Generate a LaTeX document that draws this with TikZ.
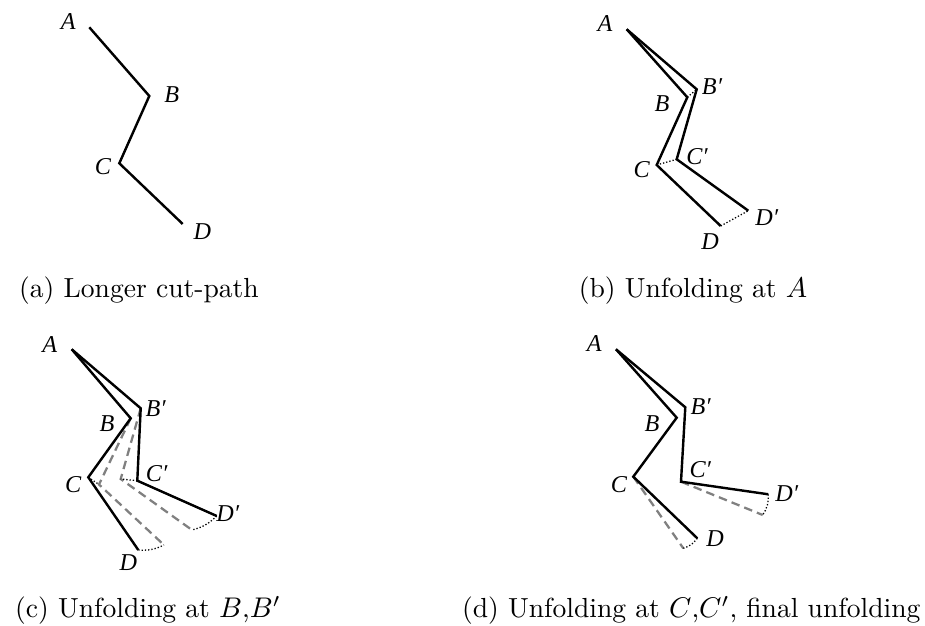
\documentclass[tikz,border=0pt]{standalone}
\usepackage{fontspec}
\newfontfamily\lblfont{Liberation Serif}
\begin{document}
\begin{tikzpicture}[x=0.3516pt,y=-0.3516pt,
  seg/.style={line width=0.85pt, line join=miter},
  old/.style={line width=0.8pt, gray, dash pattern=on 3pt off 1.8pt},
  dots/.style={line width=0.45pt, dash pattern=on 0.45pt off 0.7pt},
  lbl/.style={font=\lblfont\itshape\fontsize{8.5}{10}\selectfont, inner sep=0pt},
  captext/.style={anchor=base, inner sep=0pt, font=\fontsize{9.7}{11}\selectfont}]
\useasboundingbox (0,0) rectangle (925,626);
% ---------- (a)
\coordinate (aA) at (89.3,27.3);
\coordinate (aB) at (149.3,96);
\coordinate (aC) at (119.3,163.3);
\coordinate (aD) at (182.7,224);
\draw[seg] (aA) -- (aB) -- (aC) -- (aD);
\node[lbl] (laA) at (68.3,21.7) {A};
\node[lbl] (laB) at (171.7,95) {B};
\node[lbl] (laC) at (103,166.3) {C};
\node[lbl] (laD) at (202.3,232) {D};
\node[captext] (capa) at (139,298) {(a) Longer cut-path};
% ---------- (b)
\coordinate (bA) at (626.7,29.3);
\coordinate (bB) at (687.3,97.3);
\coordinate (bBp) at (696.7,89.3);
\coordinate (bC) at (656.7,165);
\coordinate (bCp) at (676.7,159.3);
\coordinate (bD) at (720.7,226);
\coordinate (bDp) at (748.3,210.7);
\draw[seg] (bA) -- (bB) -- (bC) -- (bD);
\draw[seg] (bA) -- (bBp) -- (bCp) -- (bDp);
\draw[dots] (bB) -- (bBp);
\draw[dots] (bC) -- (bCp);
\draw[dots] (bD) -- (bDp);
\node[lbl] (lbA) at (605,23.3) {A};
\node[lbl] (lbBp) at (712,87) {B′};
\node[lbl] (lbB) at (662,103.3) {B};
\node[lbl] (lbCp) at (697,156.7) {C′};
\node[lbl] (lbC) at (641.7,170) {C};
\node[lbl] (lbDp) at (766.7,217.3) {D′};
\node[lbl] (lbD) at (710,241.7) {D};
\node[captext] (capb) at (693,298) {(b) Unfolding at $A$};
% ---------- (c)
\coordinate (cA) at (71.7,349.3);
\coordinate (cB) at (130.7,418.3);
\coordinate (cBp) at (140.7,408.3);
\coordinate (cC) at (88.3,477.3);
\coordinate (cCp) at (137.3,480.7);
\coordinate (cD) at (138.3,550);
\coordinate (cDp) at (216.7,516);
\coordinate (cC0) at (99,484.5);
\coordinate (cD0) at (164,545);
\coordinate (cCp0) at (120.7,479);
\coordinate (cDp0) at (192,530);
\draw[old] (cB) -- (cC0) -- (cD0);
\draw[old] (cBp) -- (cCp0) -- (cDp0);
\draw[seg] (cA) -- (cB) -- (cC) -- (cD);
\draw[seg] (cA) -- (cBp) -- (cCp) -- (cDp);
\draw[dots] (cC) -- (cC0);
\draw[dots] (cCp) -- (cCp0);
\draw[dots] (cD) to[bend right=15] (cD0);
\draw[dots] (cDp) to[bend left=15] (cDp0);
\node[lbl] (lcA) at (49.7,345) {A};
\node[lbl] (lcBp) at (155.7,408.3) {B′};
\node[lbl] (lcB) at (107,423.7) {B};
\node[lbl] (lcCp) at (156.7,473.3) {C′};
\node[lbl] (lcC) at (73.3,485) {C};
\node[lbl] (lcDp) at (227.7,514) {D′};
\node[lbl] (lcD) at (128.3,563) {D};
\node[captext] (capc) at (148,618) {(c) Unfolding at $B$,$B'$};
% ---------- (d)
\coordinate (dA) at (616,349.3);
\coordinate (dB) at (676.7,417.7);
\coordinate (dBp) at (685.3,407.3);
\coordinate (dC) at (633.3,476.7);
\coordinate (dCp) at (681,481.7);
\coordinate (dD) at (697.3,538.3);
\coordinate (dDp) at (768.3,494.3);
\coordinate (dD0) at (683.3,548.3);
\coordinate (dDp0) at (762.7,515);
\draw[old] (dC) -- (dD0);
\draw[old] (dCp) -- (dDp0);
\draw[seg] (dA) -- (dB) -- (dC) -- (dD);
\draw[seg] (dA) -- (dBp) -- (dCp) -- (dDp);
\draw[dots] (dD) to[bend left=18] (dD0);
\draw[dots] (dDp) to[bend left=18] (dDp0);
\node[lbl] (ldA) at (594.3,344) {A};
\node[lbl] (ldBp) at (700.7,406.7) {B′};
\node[lbl] (ldB) at (652,423.3) {B};
\node[lbl] (ldCp) at (700.3,469.3) {C′};
\node[lbl] (ldC) at (619,484.3) {C};
\node[lbl] (ldDp) at (786.7,493.3) {D′};
\node[lbl] (ldD) at (715,539) {D};
\node[captext, anchor=base east] (capd) at (921,618) {(d) Unfolding at $C$,$C'$, final unfolding};
\end{tikzpicture}
\end{document}
